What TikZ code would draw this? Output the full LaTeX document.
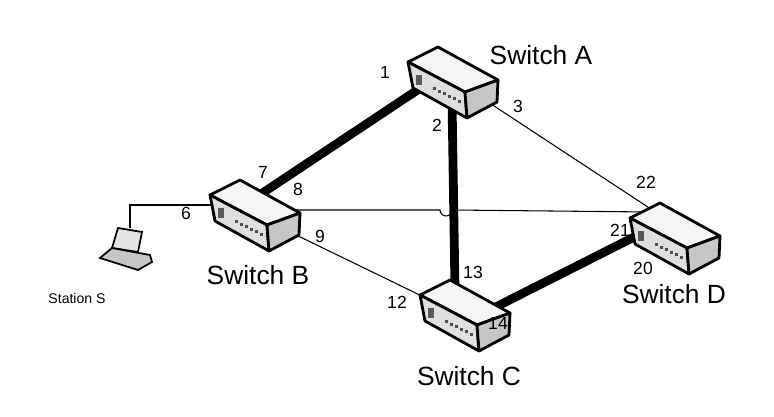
\documentclass[tikz,border=0pt]{standalone}
\usepackage{fontspec}
\setmainfont{Liberation Sans}
\begin{document}
\begin{tikzpicture}[x=0.02cm,y=-0.02cm,
    lbl/.style={font=\fontsize{10}{11}\selectfont},
    swname/.style={font=\fontsize{15}{17}\selectfont},
    trunk/.style={line width=5pt},
    link/.style={line width=0.6pt},
    swbox/.pic={
      \draw[line width=1.6pt,line join=round,fill=gray!8] (-45,-20) -- (-15,-35) -- (45,-2) -- (12,10) -- cycle;
      \draw[line width=1.6pt,line join=round,fill=gray!25] (-45,-20) -- (12,10) -- (14,36) -- (-40,6) -- cycle;
      \draw[line width=1.6pt,line join=round,fill=gray!45] (12,10) -- (45,-2) -- (44,20) -- (14,36) -- cycle;
      \fill[gray!70!black] (-37,-7) rectangle (-31,3);
      \foreach \i in {0,...,5} \fill[gray!60!black] (-20+5*\i,5+2.6*\i) rectangle ++(3,3);
    }]
  \useasboundingbox (0,0) rectangle (774,416);
  % ports
  \coordinate (a1) at (425,85);  \coordinate (a2) at (452,100);
  \coordinate (a3) at (485,100);
  \coordinate (b7) at (258,196); \coordinate (b8) at (290,210);
  \coordinate (b9) at (290,232); \coordinate (b6) at (212,205);
  \coordinate (c13) at (455,290); \coordinate (c12) at (430,300);
  \coordinate (c14) at (470,320);
  \coordinate (d22) at (660,215); \coordinate (d21) at (650,212);
  \coordinate (d20) at (648,230);
  \coordinate (s) at (130,228); \coordinate (bend) at (130,205);
  % links
  \draw[trunk] (a1) -- (b7);
  \draw[trunk] (a2) -- (c13);
  \draw[trunk] (c14) -- (d20);
  \draw[link] (a3) -- (d22);
  \draw[link] (b8) -- (440,210) arc[start angle=180,end angle=0,radius=6] -- (d21);
  \draw[link] (b9) -- (c12);
  \draw[link] (b6) -- (bend) -- (s);
  % switches
  \pic at (453,82) {swbox};
  \pic at (255,215) {swbox};
  \pic at (465,315) {swbox};
  \pic at (675,238) {swbox};
  % station
  \draw[line width=1pt,fill=gray!20] (112,248) -- (118,228) -- (142,232) -- (138,252) -- cycle;
  \draw[line width=1pt,fill=gray!45] (100,258) -- (112,248) -- (150,255) -- (152,262) -- (138,270) -- cycle;
  % port labels
  \node[lbl] at (385,72) {1};
  \node[lbl] at (437,125) {2};
  \node[lbl] at (518,106) {3};
  \node[lbl] at (263,172) {7};
  \node[lbl] at (298,189) {8};
  \node[lbl] at (186,213) {6};
  \node[lbl] at (320,236) {9};
  \node[lbl] at (646,182) {22};
  \node[lbl] at (620,230) {21};
  \node[lbl] at (643,268) {20};
  \node[lbl] at (473,272) {13};
  \node[lbl] at (397,302) {12};
  \node[lbl] at (498,323) {14};
  % names
  \node[swname] at (541,55) {Switch A};
  \node[swname] at (258,275) {Switch B};
  \node[swname] at (469,376) {Switch C};
  \node[swname] at (674,294) {Switch D};
  \node[font=\fontsize{8}{9}\selectfont] at (77,298) {Station S};
\end{tikzpicture}
\end{document}
